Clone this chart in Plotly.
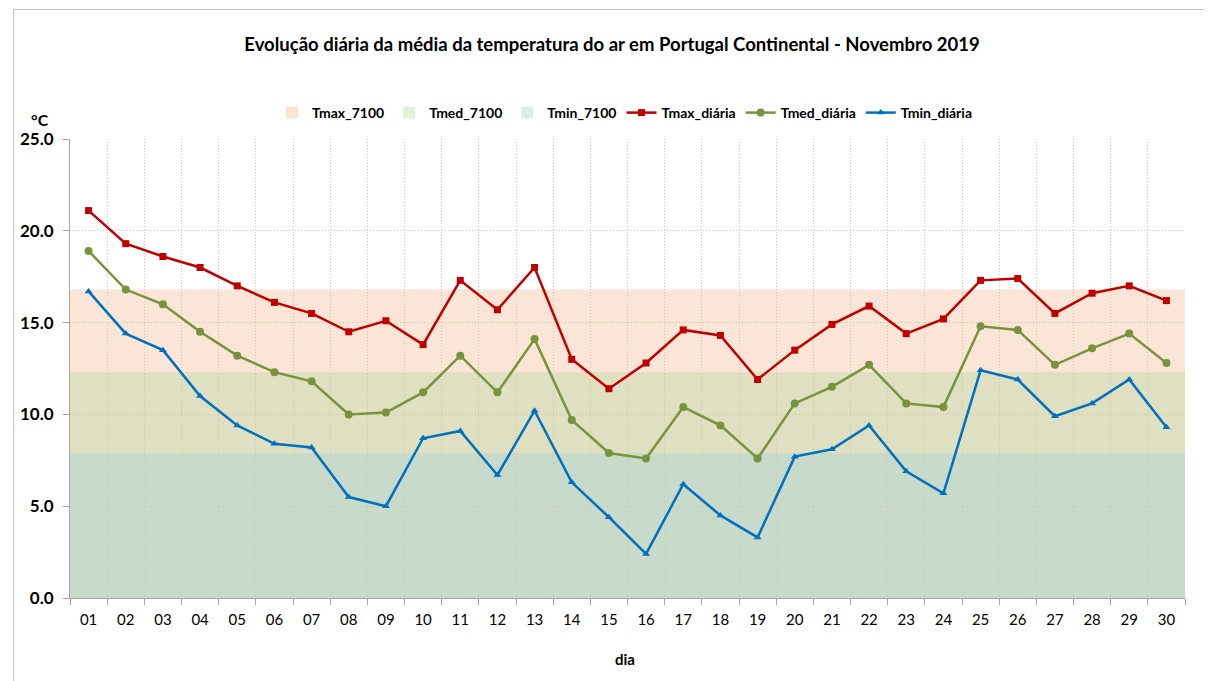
import plotly.graph_objects as go

days = [f"{d:02d}" for d in range(1, 31)]

tmax_diaria = [21.1, 19.3, 18.6, 18.0, 17.0, 16.1, 15.5, 14.5, 15.1, 13.8,
               17.3, 15.7, 18.0, 13.0, 11.4, 12.8, 14.6, 14.3, 11.9, 13.5,
               14.9, 15.9, 14.4, 15.2, 17.3, 17.4, 15.5, 16.6, 17.0, 16.2]
tmed_diaria = [18.9, 16.8, 16.0, 14.5, 13.2, 12.3, 11.8, 10.0, 10.1, 11.2,
               13.2, 11.2, 14.1, 9.7, 7.9, 7.6, 10.4, 9.4, 7.6, 10.6,
               11.5, 12.7, 10.6, 10.4, 14.8, 14.6, 12.7, 13.6, 14.4, 12.8]
tmin_diaria = [16.7, 14.4, 13.5, 11.0, 9.4, 8.4, 8.2, 5.5, 5.0, 8.7,
               9.1, 6.7, 10.2, 6.3, 4.4, 2.4, 6.2, 4.5, 3.3, 7.7,
               8.1, 9.4, 6.9, 5.7, 12.4, 11.9, 9.9, 10.6, 11.9, 9.3]

tmax_7100 = 16.8
tmed_7100 = 12.3
tmin_7100 = 7.9

y_ticks = [0, 5, 10, 15, 20, 25]

FONT = "Lato, Carlito, 'Liberation Sans', sans-serif"

# page body has an 8px margin: figure pixel = screen pixel - 8
W, H = 1204, 673
PL, PR, PT, PB = 65, 1185, 139, 598   # plot area in screen pixels
PW, PH = PR - PL, PB - PT


def px(p):
    return (p - PL) / PW


def py(p):
    return (PB - p) / PH


fig = go.Figure()

bands = [
    ("Tmax_7100", tmax_7100, "rgba(248,203,173,0.5)", 1),
    ("Tmed_7100", tmed_7100, "rgba(182,215,162,0.4)", 2),
    ("Tmin_7100", tmin_7100, "rgba(172,212,212,0.45)", 3),
]
for name, top, color, rank in bands:
    fig.add_shape(type="rect", xref="x domain", yref="y", x0=0, x1=1, y0=0, y1=top,
                  fillcolor=color, line=dict(width=0), layer="below",
                  showlegend=True, name=name, legendrank=rank)

series = [
    ("Tmax_diária", tmax_diaria, "#C00000", "square", 7, 4),
    ("Tmed_diária", tmed_diaria, "#77933C", "circle", 8, 5),
    ("Tmin_diária", tmin_diaria, "#0070C0", "triangle-up", 7, 6),
]
for name, vals, color, sym, size, rank in series:
    fig.add_trace(go.Scatter(
        x=days, y=vals, name=name, mode="lines+markers",
        line=dict(color=color, width=2.5),
        marker=dict(symbol=sym, size=size, color=color),
        legendrank=rank,
    ))

grid_color = "rgb(206,200,160)"
axis_color = "#A6A6A6"

fig.update_layout(
    width=W, height=H,
    margin=dict(l=PL - 8, r=W - (PR - 8), t=PT - 8, b=H - (PB - 8)),
    paper_bgcolor="white", plot_bgcolor="white",
    font=dict(family=FONT, color="#000000"),
    title=dict(text="Evolução diária da média da temperatura do ar em Portugal Continental - Novembro 2019",
               x=(612 - 8) / W, xanchor="center", y=1 - (45 - 8) / H, yanchor="middle",
               font=dict(size=18.5, family=FONT, weight="bold")),
    legend=dict(orientation="h", x=px(622), xanchor="center",
                y=py(113), yanchor="middle",
                font=dict(size=14, family=FONT, weight="bold"), itemwidth=30,
                traceorder="normal", bgcolor="rgba(0,0,0,0)"),
    xaxis=dict(type="category", tickson="boundaries", range=[-0.5, 29.5],
               showgrid=True, gridcolor=grid_color, griddash="1px,2px", gridwidth=1,
               showline=True, linecolor=axis_color, linewidth=1,
               ticks="outside", ticklen=6, tickcolor=axis_color,
               ticklabelstandoff=8,
               tickfont=dict(size=15, family=FONT), zeroline=False),
    yaxis=dict(range=[0, 25], tickvals=y_ticks, tickformat=".1f",
               showgrid=True, gridcolor=grid_color, griddash="1px,2px", gridwidth=1,
               showline=True, linecolor=axis_color, linewidth=1,
               ticks="outside", ticklen=6, tickcolor=axis_color,
               ticklabelstandoff=6,
               tickfont=dict(size=17, family=FONT, weight="bold"), zeroline=False),
)

fig.add_annotation(text="°C", xref="paper", yref="paper",
                   x=px(35), y=py(119), xanchor="center", yanchor="middle",
                   showarrow=False, font=dict(size=16, family=FONT, weight="bold"))
fig.add_annotation(text="dia", xref="paper", yref="paper",
                   x=px(622), y=py(659), xanchor="center", yanchor="middle",
                   showarrow=False, font=dict(size=15, family=FONT, weight="bold"))

fig.add_shape(type="rect", xref="paper", yref="paper",
              x0=px(8.5), x1=px(1207), y0=py(700), y1=py(9.5),
              line=dict(color="#BFBFBF", width=1), fillcolor="rgba(0,0,0,0)",
              layer="above")

fig.write_html("out.html")
